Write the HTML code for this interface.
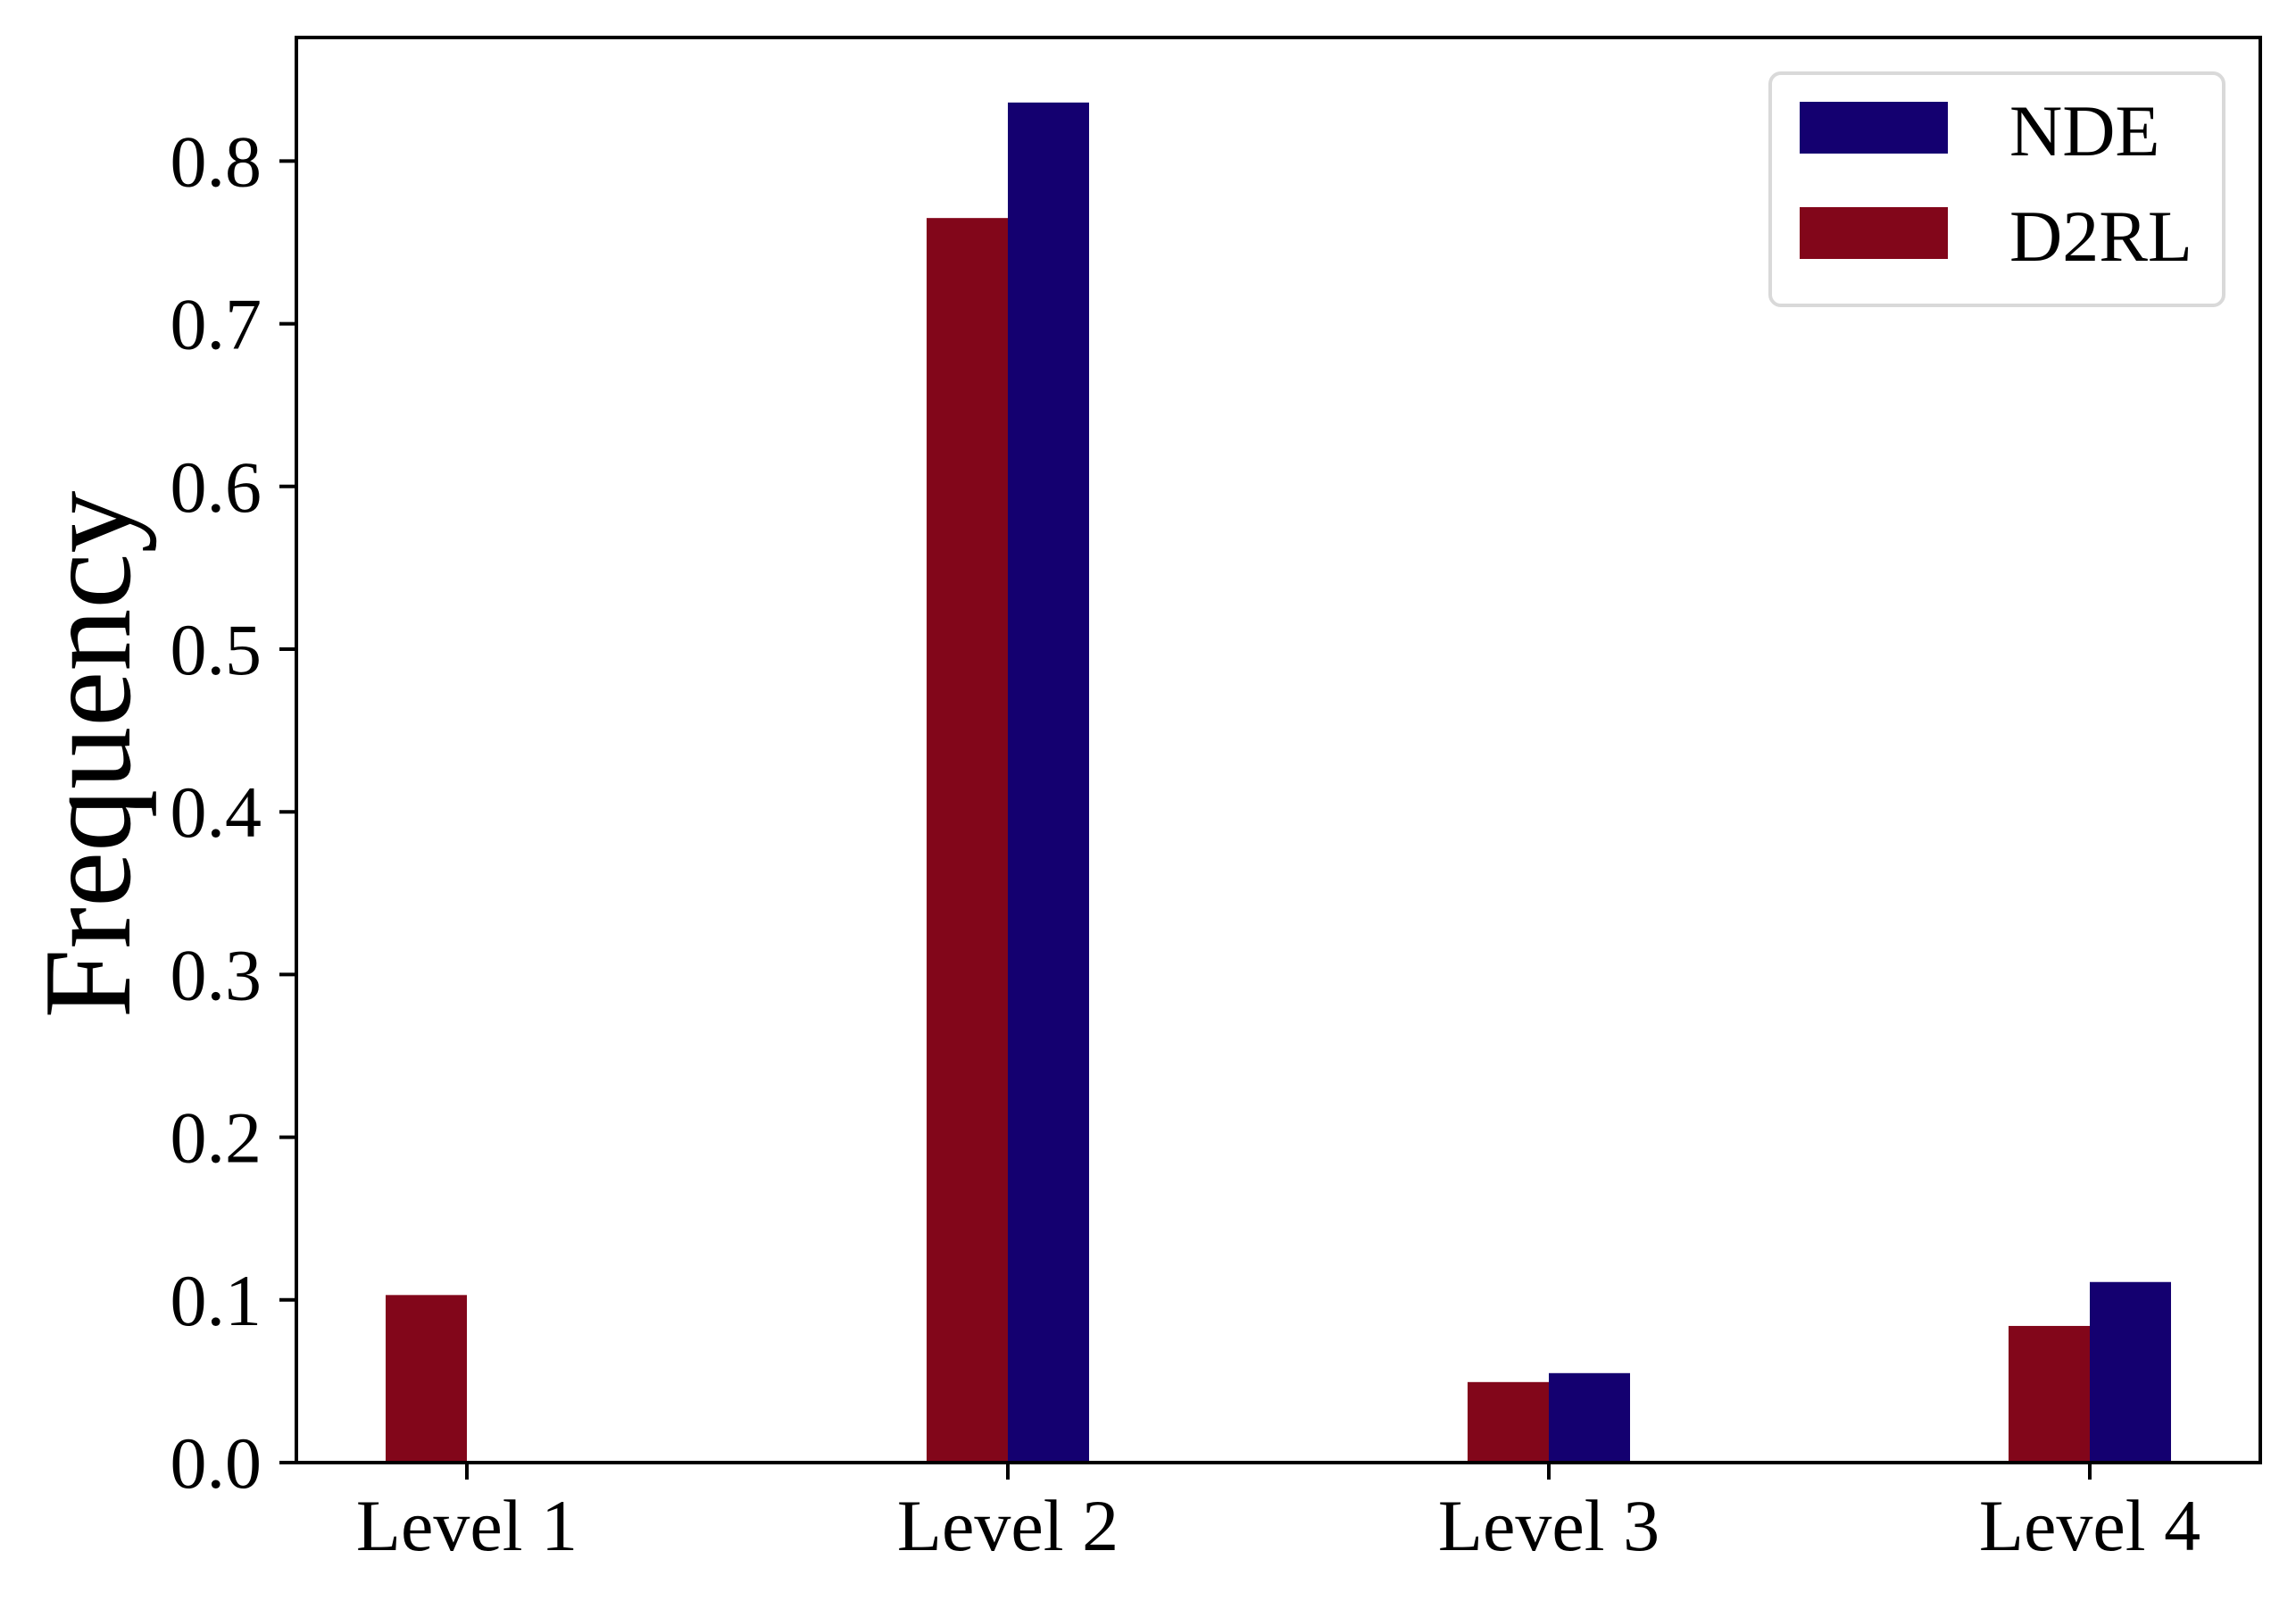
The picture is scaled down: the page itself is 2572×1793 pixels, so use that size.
<!DOCTYPE html>
<html><head><meta charset="utf-8"><style>
html,body{margin:0;padding:0;background:#fff}
svg{display:block}
text{font-family:"Liberation Serif",serif;fill:#000}
</style></head><body>
<svg id="chart" width="2572" height="1793" viewBox="0 0 2572 1793" xmlns="http://www.w3.org/2000/svg">
<g id="bars"></g>
<g id="axes"></g>
<text transform="translate(145,845) rotate(-90)" text-anchor="middle" font-size="140">Frequency</text>
<g>
<rect x="1983" y="82" width="508" height="260" rx="12" fill="#fff" stroke="#d9d9d9" stroke-width="4"/>
<rect x="2016" y="114" width="166" height="58" fill="#140070"/>
<text x="2251" y="174" font-size="82">NDE</text>
<rect x="2016" y="232" width="166" height="58" fill="#82061a"/>
<text x="2251" y="292" font-size="82">D2RL</text>
</g>
</svg>
<script>
const categories = ["Level 1","Level 2","Level 3","Level 4"];
const d2rlValues = [0.103, 0.765, 0.0495, 0.084];
const ndeValues = [0, 0.836, 0.055, 0.111];
const yTicks = [0,0.1,0.2,0.3,0.4,0.5,0.6,0.7,0.8];
const yTickLabels = ["0.0","0.1","0.2","0.3","0.4","0.5","0.6","0.7","0.8"];

const NS="http://www.w3.org/2000/svg";
const L=332,R=2532,T=42,B=1638;
const y0=1638, pxPer=1822;
function yScale(v){return y0 - v*pxPer;}
function xScale(i){return 523 + i*606;}
const bw=91;
function mk(tag,attrs,parent){const e=document.createElementNS(NS,tag);for(const k in attrs)e.setAttribute(k,attrs[k]);parent.appendChild(e);return e;}
const bars=document.getElementById('bars');
categories.forEach((c,i)=>{
  const cx=xScale(i);
  let r=mk('rect',{x:cx-bw,y:yScale(d2rlValues[i]),width:bw,height:yScale(0)-yScale(d2rlValues[i]),fill:'#82061a'},bars);
  
  
  let n=mk('rect',{x:cx,y:yScale(ndeValues[i]),width:bw,height:yScale(0)-yScale(ndeValues[i]),fill:'#140070'},bars);
  
  
});
const axes=document.getElementById('axes');
let frame=mk('rect',{x:L,y:T,width:R-L,height:B-T,fill:'none',stroke:'#000','stroke-width':4},axes);


yTicks.forEach((v,i)=>{
  const y=yScale(v);
  let t=mk('line',{x1:L-19,x2:L,y1:y,y2:y,stroke:'#000','stroke-width':4},axes);
  
  
  let lb=mk('text',{x:293,y:y+28,'text-anchor':'end','font-size':82},axes);
  lb.textContent=yTickLabels[i];
  
  
});
categories.forEach((c,i)=>{
  const x=xScale(i);
  let t=mk('line',{x1:x,x2:x,y1:B,y2:B+19,stroke:'#000','stroke-width':4},axes);
  
  
  let lb=mk('text',{x:x,y:1736,'text-anchor':'middle','font-size':82},axes);
  lb.textContent=c;
  
  
});
</script>
</body></html>
